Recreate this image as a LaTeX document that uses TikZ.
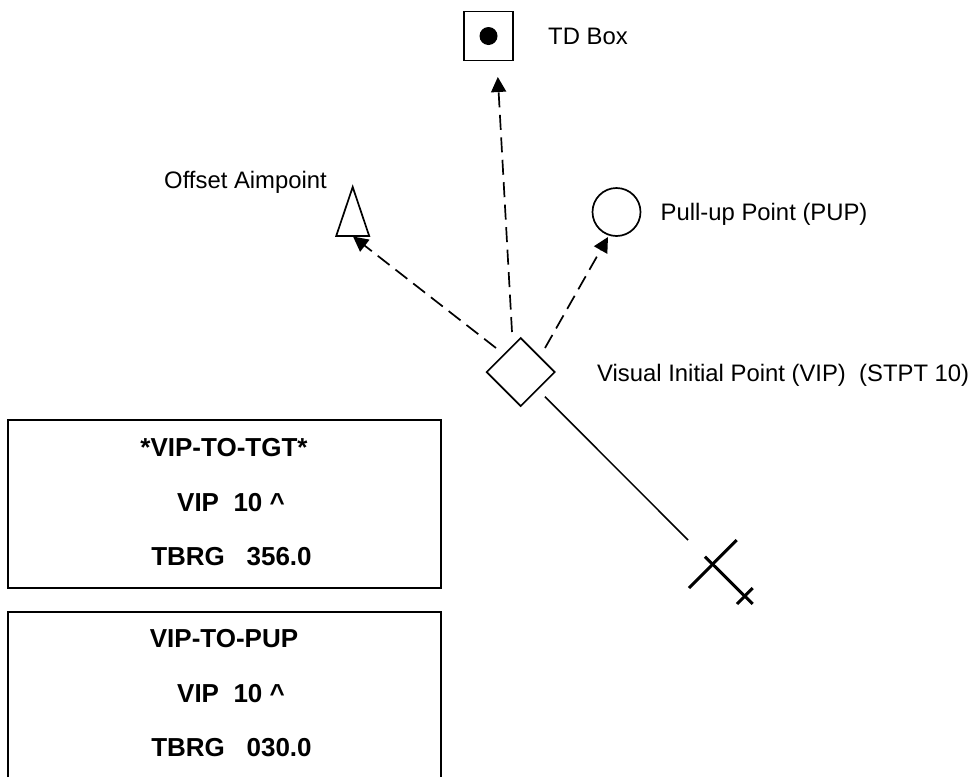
\documentclass[tikz,border=0pt]{standalone}
\usepackage{fontspec}
\setmainfont{Liberation Sans}
\usetikzlibrary{shapes.geometric,arrows.meta}
\tikzset{
  mark outline/.style={draw=black,line width=1.7pt,inner sep=0pt,outer sep=0pt},
  lbl/.style={anchor=base west,inner sep=0pt,font=\fontsize{23.85}{26}\selectfont},
  disp/.style={anchor=base,inner sep=0pt,font=\fontsize{26}{28}\selectfont\bfseries},
  pathline/.style={line width=1.5pt},
  dashline/.style={line width=1.7pt,dash pattern=on 15pt off 7.5pt,-{Triangle[length=15pt,width=15pt]}},
  planeline/.style={line width=3pt}
}
\begin{document}
\begin{tikzpicture}[x=1pt,y=-1pt]
\useasboundingbox (0,0) rectangle (972,777);
% marks
\node[mark outline,rectangle,minimum size=49pt] (td) at (488.5,36) {};
\node[circle,fill=black,minimum size=18pt,inner sep=0pt] (tddot) at (488.5,36) {};
\node[mark outline,circle,minimum size=48pt] (pup) at (616.5,212) {};
\node[mark outline,diamond,minimum width=68pt,minimum height=68pt] (vip) at (520.7,372) {};
\node[mark outline,isosceles triangle,isosceles triangle stretches,shape border rotate=90,minimum width=33pt,minimum height=49pt,anchor=apex] (oa) at (352.7,187) {};
% labels
\node[lbl] (lbltd) at (548,44) {TD Box};
\node[lbl] (lbloa) at (164,188.3) {Offset Aimpoint};
\node[lbl] (lblpup) at (660.5,220.7) {Pull-up Point (PUP)};
\node[lbl] (lblvip) at (597,381) {Visual Initial Point (VIP)\ \ (STPT 10)};
% connector ends
\coordinate (tdS) at (512,332);
\coordinate (tdE) at (497.8,77);
\coordinate (oaS) at (496,348);
\coordinate (oaE) at (353,236.5);
\coordinate (pupS) at (545,348);
\coordinate (pupE) at (608,237);
\coordinate (trkS) at (545,396.7);
\coordinate (trkE) at (688,540);
\draw[dashline] (tdS) -- (tdE);
\draw[dashline] (oaS) -- (oaE);
\draw[dashline] (pupS) -- (pupE);
\draw[pathline] (trkS) -- (trkE);
% aircraft
\coordinate (wingA) at (736.7,540);
\coordinate (wingB) at (689,588);
\coordinate (bodyA) at (705,556.7);
\coordinate (bodyB) at (752.7,604);
\coordinate (tailA) at (752.7,588);
\coordinate (tailB) at (737,604);
\draw[planeline] (wingA) -- (wingB);
\draw[planeline] (bodyA) -- (bodyB);
\draw[planeline] (tailA) -- (tailB);
% display boxes
\node[mark outline,rectangle,minimum width=433pt,minimum height=168pt,anchor=north west] (box1) at (8,420) {};
\coordinate (b2a) at (8,777);
\coordinate (b2b) at (8,612);
\coordinate (b2c) at (441,612);
\coordinate (b2d) at (441,777);
\draw[line width=1.7pt] (b2a) -- (b2b) -- (b2c) -- (b2d);
\node[disp] (t1) at (224,456) {*VIP-TO-TGT*};
\node[disp] (t2) at (231,511) {VIP\ \ 10 \^{}};
\node[disp] (t3) at (231.5,565) {TBRG\ \ \ 356.0};
\node[disp] (t4) at (224,647.7) {VIP-TO-PUP};
\node[disp] (t5) at (231,702.7) {VIP\ \ 10 \^{}};
\node[disp] (t6) at (231.5,756.7) {TBRG\ \ \ 030.0};
\end{tikzpicture}
\end{document}
